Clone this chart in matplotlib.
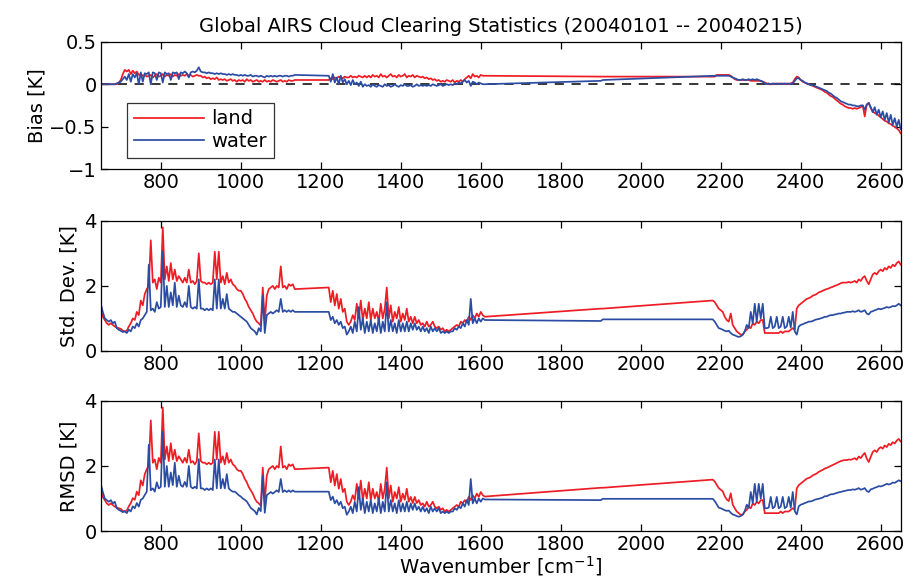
import numpy as np
import matplotlib
matplotlib.use("Agg")
import matplotlib.pyplot as plt

# 波数网格: 三个 AIRS 谱段 + 间隙中的两个点
wn = np.concatenate([np.arange(650, 1140, 5),
                     np.arange(1220, 1615, 5),
                     [1900, 1905],
                     np.arange(2180, 2655, 5)])

# 偏差 [K]
bias_land = [
    0.00, 0.00, 0.00, 0.00, 0.00, 0.00, 0.00, 0.00, 0.00, 0.02,
    0.05, 0.12, 0.17, 0.15, 0.17, 0.12, 0.16, 0.13, 0.15, 0.11,
    0.12, 0.10, 0.11, 0.09, 0.10, 0.11, 0.08, 0.10, 0.12, 0.09,
    0.10, 0.12, 0.09, 0.11, 0.10, 0.12, 0.09, 0.11, 0.10, 0.12,
    0.10, 0.11, 0.10, 0.12, 0.10, 0.11, 0.09, 0.10, 0.11, 0.10,
    0.10, 0.08, 0.09, 0.07, 0.08, 0.06, 0.07, 0.06, 0.08, 0.05,
    0.06, 0.05, 0.06, 0.04, 0.05, 0.06, 0.04, 0.05, 0.03, 0.05,
    0.04, 0.05, 0.03, 0.06, 0.04, 0.05, 0.03, 0.04, 0.05, 0.03,
    0.04, 0.03, 0.05, 0.03, 0.04, 0.03, 0.05, 0.04, 0.03, 0.04,
    0.05, 0.03, 0.04, 0.03, 0.05, 0.04, 0.04, 0.05,
    0.05, 0.07, 0.06, 0.08, 0.07, 0.09, 0.08, 0.07, 0.09, 0.08,
    0.08, 0.10, 0.08, 0.09, 0.08, 0.10, 0.09, 0.08, 0.10, 0.08,
    0.10, 0.08, 0.11, 0.09, 0.10, 0.08, 0.12, 0.09, 0.10, 0.08,
    0.10, 0.12, 0.09, 0.10, 0.08, 0.11, 0.09, 0.10, 0.12, 0.08,
    0.10, 0.09, 0.11, 0.08, 0.10, 0.09, 0.08, 0.09, 0.07, 0.08,
    0.06, 0.07, 0.05, 0.06, 0.04, 0.05, 0.03, 0.04, 0.03, 0.05,
    0.04, 0.03, 0.05, 0.02, 0.04, 0.03, 0.05, 0.03, 0.06, 0.08,
    0.10, 0.07, 0.12, 0.09, 0.10, 0.08, 0.11, 0.10, 0.10,
    0.09, 0.09,
    0.09, 0.09, 0.11, 0.11, 0.11, 0.11, 0.11, 0.11, 0.11, 0.10,
    0.08, 0.06, 0.05, 0.05, 0.05, 0.05, 0.05, 0.05, 0.05, 0.04,
    0.04, 0.04, 0.04, 0.04, 0.04, 0.03, 0.02, 0.01, 0.00, 0.00,
    0.00, 0.01, 0.00, 0.01, 0.00, 0.01, 0.00, 0.01, 0.00, 0.01,
    0.02, 0.06, 0.09, 0.08, 0.05, 0.03, 0.02, 0.01, 0.00, -0.01,
    -0.02, -0.03, -0.04, -0.05, -0.06, -0.07, -0.09, -0.10, -0.12, -0.14,
    -0.15, -0.17, -0.19, -0.21, -0.23, -0.24, -0.26, -0.27, -0.28, -0.28,
    -0.29, -0.28, -0.29, -0.28, -0.27, -0.25, -0.38, -0.24, -0.22, -0.28,
    -0.32, -0.34, -0.35, -0.37, -0.39, -0.41, -0.43, -0.44, -0.46, -0.47,
    -0.49, -0.50, -0.52, -0.54, -0.58,
]
bias_water = [
    0.00, 0.00, 0.00, 0.00, 0.00, 0.00, 0.00, 0.00, 0.01, 0.02,
    0.03, 0.06, 0.09, 0.05, 0.12, 0.03, 0.12, 0.08, 0.13, 0.00,
    0.14, 0.03, 0.13, 0.12, 0.14, 0.00, 0.14, 0.13, 0.05, 0.14,
    0.13, 0.02, 0.14, 0.12, 0.13, 0.05, 0.14, 0.13, 0.14, 0.06,
    0.14, 0.13, 0.15, 0.13, 0.08, 0.14, 0.15, 0.14, 0.16, 0.20,
    0.15, 0.14, 0.14, 0.13, 0.14, 0.13, 0.13, 0.12, 0.13, 0.12,
    0.13, 0.12, 0.12, 0.11, 0.12, 0.11, 0.12, 0.11, 0.11, 0.10,
    0.11, 0.10, 0.11, 0.10, 0.10, 0.11, 0.09, 0.10, 0.10, 0.09,
    0.10, 0.09, 0.08, 0.10, 0.09, 0.10, 0.09, 0.10, 0.09, 0.10,
    0.10, 0.09, 0.10, 0.10, 0.09, 0.10, 0.10, 0.11,
    0.10, 0.03, 0.12, 0.02, 0.08, 0.00, 0.10, 0.02, 0.06, 0.00,
    0.04, -0.01, 0.05, 0.00, 0.02, -0.02, 0.03, -0.03, 0.00, -0.02,
    -0.01, -0.03, 0.00, -0.02, -0.03, -0.01, -0.02, -0.03, 0.00, -0.02,
    -0.01, -0.03, -0.02, 0.00, -0.02, -0.03, -0.01, -0.02, 0.00, -0.02,
    -0.02, -0.01, -0.03, -0.02, 0.00, -0.02, -0.01, -0.02, -0.01, -0.02,
    -0.01, -0.02, 0.00, -0.01, -0.02, -0.01, 0.00, -0.02, -0.01, 0.00,
    -0.01, 0.00, -0.01, 0.01, 0.00, 0.02, 0.01, 0.03, 0.05, 0.02,
    0.04, -0.02, 0.03, 0.02, 0.00, 0.02, 0.01, 0.00, 0.00,
    0.04, 0.05,
    0.10, 0.10, 0.10, 0.10, 0.10, 0.10, 0.10, 0.10, 0.10, 0.09,
    0.08, 0.07, 0.06, 0.05, 0.05, 0.06, 0.05, 0.05, 0.06, 0.05,
    0.06, 0.05, 0.06, 0.05, 0.04, 0.03, 0.01, 0.00, 0.01, 0.00,
    0.01, 0.00, 0.01, 0.00, 0.01, 0.00, 0.01, 0.00, 0.01, 0.00,
    0.01, 0.04, 0.07, 0.07, 0.05, 0.04, 0.02, 0.01, 0.00, -0.01,
    -0.01, -0.02, -0.03, -0.04, -0.05, -0.06, -0.07, -0.08, -0.10, -0.11,
    -0.13, -0.15, -0.16, -0.18, -0.20, -0.21, -0.22, -0.23, -0.24, -0.24,
    -0.25, -0.25, -0.26, -0.26, -0.25, -0.25, -0.30, -0.24, -0.22, -0.27,
    -0.33, -0.27, -0.36, -0.30, -0.39, -0.32, -0.42, -0.34, -0.45, -0.36,
    -0.48, -0.40, -0.50, -0.42, -0.53,
]

# 标准差 [K]
std_land = [
    1.25, 1.05, 0.95, 0.85, 0.80, 0.85, 0.80, 0.75, 0.72, 0.70,
    0.68, 0.62, 0.60, 0.62, 0.75, 0.85, 1.00, 0.95, 1.20, 1.10,
    1.55, 1.40, 1.75, 1.90, 2.00, 3.40, 2.10, 2.20, 1.90, 2.25,
    2.10, 3.80, 2.20, 2.60, 2.15, 2.70, 2.20, 2.50, 2.15, 2.30,
    2.20, 2.10, 2.25, 2.10, 2.50, 2.10, 2.15, 2.05, 2.15, 3.00,
    2.15, 2.10, 2.10, 2.05, 2.10, 2.05, 2.10, 3.05, 2.20, 3.05,
    2.10, 2.30, 2.05, 2.40, 2.10, 2.20, 2.05, 2.00, 1.90, 1.85,
    1.85, 1.75, 1.60, 1.50, 1.35, 1.25, 1.15, 1.00, 0.90, 0.85,
    0.78, 1.95, 0.90, 1.70, 1.90, 1.95, 2.00, 1.90, 2.00, 1.95,
    2.60, 1.95, 2.00, 1.90, 2.05, 2.00, 2.05, 1.90,
    1.95, 1.50, 1.85, 1.40, 1.75, 1.30, 1.60, 1.20, 1.30, 0.90,
    0.80, 0.90, 1.10, 0.95, 1.45, 1.00, 1.55, 0.95, 1.30, 1.00,
    1.50, 0.95, 1.30, 1.00, 1.20, 0.90, 1.45, 1.00, 1.30, 1.95,
    1.00, 1.40, 0.90, 1.20, 1.00, 1.35, 0.90, 1.15, 0.95, 1.30,
    0.90, 1.05, 0.85, 1.05, 0.85, 0.95, 0.80, 0.85, 0.75, 0.90,
    0.75, 0.80, 0.90, 0.75, 0.70, 0.75, 0.65, 0.70, 0.60, 0.65,
    0.60, 0.65, 0.70, 0.75, 0.80, 0.75, 0.90, 0.85, 0.95, 0.90,
    1.05, 0.95, 1.10, 1.00, 1.15, 1.05, 1.20, 1.10, 1.05,
    1.30, 1.30,
    1.55, 1.50, 1.40, 1.30, 1.25, 1.20, 1.05, 0.95, 0.90, 1.15,
    0.80, 0.70, 0.60, 0.55, 0.50, 0.50, 0.60, 0.65, 0.75, 0.70,
    0.85, 0.80, 0.90, 0.85, 0.95, 0.95, 0.55, 0.55, 0.55, 0.55,
    0.55, 0.55, 0.55, 0.55, 0.60, 0.55, 0.60, 0.60, 0.60, 0.65,
    0.70, 0.65, 1.30, 1.40, 1.45, 1.50, 1.55, 1.60, 1.62, 1.65,
    1.70, 1.72, 1.75, 1.80, 1.82, 1.85, 1.88, 1.90, 1.92, 1.95,
    1.97, 2.00, 2.02, 2.05, 2.08, 2.10, 2.10, 2.10, 2.12, 2.10,
    2.12, 2.15, 2.10, 2.20, 2.15, 2.25, 2.30, 2.15, 2.05, 2.20,
    2.35, 2.40, 2.35, 2.45, 2.50, 2.45, 2.55, 2.50, 2.60, 2.55,
    2.65, 2.60, 2.70, 2.75, 2.65,
]
std_water = [
    1.45, 1.20, 1.00, 0.95, 0.90, 0.95, 0.85, 0.90, 0.70, 0.65,
    0.62, 0.58, 0.60, 0.55, 0.65, 0.60, 0.75, 0.70, 0.85, 0.75,
    0.95, 1.00, 1.10, 1.20, 2.65, 1.25, 1.30, 1.20, 1.50, 1.30,
    1.35, 3.05, 1.35, 2.00, 1.35, 1.80, 1.40, 2.10, 1.35, 1.70,
    1.40, 1.35, 1.50, 1.35, 2.00, 1.35, 1.30, 1.35, 1.30, 2.20,
    1.30, 1.30, 1.25, 1.30, 1.25, 1.30, 1.25, 2.20, 1.30, 2.20,
    1.30, 1.60, 1.30, 1.75, 1.30, 1.25, 1.20, 1.20, 1.15, 1.10,
    1.05, 1.00, 0.95, 0.90, 0.80, 0.70, 0.65, 0.60, 0.50, 0.70,
    0.60, 1.70, 0.55, 1.10, 1.15, 1.20, 1.15, 1.20, 1.25, 1.20,
    1.60, 1.20, 1.25, 1.20, 1.25, 1.20, 1.25, 1.20,
    1.20, 0.95, 1.05, 0.85, 0.95, 0.80, 0.90, 0.70, 0.75, 0.50,
    0.60, 0.75, 0.55, 0.90, 0.60, 1.35, 0.65, 1.00, 0.55, 0.90,
    0.60, 0.95, 0.55, 0.85, 0.60, 1.00, 0.55, 0.90, 0.60, 1.50,
    0.60, 0.95, 0.60, 0.85, 0.55, 0.95, 0.60, 0.85, 0.60, 0.90,
    0.60, 0.85, 0.65, 0.85, 0.65, 0.75, 0.60, 0.75, 0.60, 0.70,
    0.55, 0.75, 0.60, 0.70, 0.60, 0.70, 0.55, 0.60, 0.55, 0.60,
    0.55, 0.60, 0.60, 0.70, 0.65, 0.75, 0.70, 0.85, 0.75, 0.95,
    0.80, 1.60, 0.85, 1.00, 0.85, 1.00, 0.90, 1.00, 0.95,
    0.92, 0.97,
    0.97, 0.90, 0.80, 0.70, 0.68, 0.65, 0.62, 0.60, 0.62, 0.55,
    0.50, 0.48, 0.45, 0.43, 0.45, 0.50, 0.60, 0.80, 0.70, 1.20,
    0.85, 1.45, 0.90, 1.45, 1.00, 1.45, 0.70, 0.70, 0.72, 1.05,
    0.70, 0.75, 1.05, 0.70, 0.75, 1.05, 0.70, 0.75, 1.05, 0.72,
    1.20, 0.60, 0.50, 0.75, 0.80, 0.82, 0.85, 0.87, 0.90, 0.90,
    0.92, 0.95, 0.97, 0.98, 1.00, 1.02, 1.05, 1.05, 1.08, 1.10,
    1.10, 1.12, 1.13, 1.15, 1.15, 1.17, 1.18, 1.20, 1.20, 1.20,
    1.22, 1.20, 1.22, 1.25, 1.20, 1.22, 1.25, 1.15, 1.12, 1.20,
    1.22, 1.25, 1.27, 1.30, 1.28, 1.30, 1.32, 1.35, 1.33, 1.35,
    1.38, 1.37, 1.40, 1.45, 1.40,
]

# 均方根差 [K]
rmsd_land = [
    1.25, 1.05, 0.95, 0.85, 0.80, 0.85, 0.80, 0.75, 0.72, 0.70,
    0.68, 0.62, 0.60, 0.63, 0.76, 0.86, 1.01, 0.96, 1.21, 1.10,
    1.56, 1.40, 1.75, 1.90, 2.00, 3.40, 2.10, 2.20, 1.90, 2.25,
    2.10, 3.80, 2.20, 2.60, 2.15, 2.70, 2.20, 2.50, 2.15, 2.30,
    2.20, 2.10, 2.25, 2.10, 2.50, 2.10, 2.15, 2.05, 2.15, 3.00,
    2.15, 2.10, 2.10, 2.05, 2.10, 2.05, 2.10, 3.05, 2.20, 3.05,
    2.10, 2.30, 2.05, 2.40, 2.10, 2.20, 2.05, 2.00, 1.90, 1.85,
    1.85, 1.75, 1.60, 1.50, 1.35, 1.25, 1.15, 1.00, 0.90, 0.85,
    0.78, 1.95, 0.90, 1.70, 1.90, 1.95, 2.00, 1.90, 2.00, 1.95,
    2.60, 1.95, 2.00, 1.90, 2.05, 2.00, 2.05, 1.90,
    1.95, 1.50, 1.85, 1.40, 1.75, 1.30, 1.60, 1.20, 1.30, 0.90,
    0.80, 0.91, 1.10, 0.95, 1.45, 1.00, 1.55, 0.95, 1.30, 1.00,
    1.50, 0.95, 1.30, 1.00, 1.20, 0.90, 1.45, 1.00, 1.30, 1.95,
    1.00, 1.40, 0.90, 1.20, 1.00, 1.35, 0.90, 1.15, 0.96, 1.30,
    0.90, 1.05, 0.86, 1.05, 0.86, 0.95, 0.80, 0.85, 0.75, 0.90,
    0.75, 0.80, 0.90, 0.75, 0.70, 0.75, 0.65, 0.70, 0.60, 0.65,
    0.60, 0.65, 0.70, 0.75, 0.80, 0.75, 0.90, 0.85, 0.95, 0.90,
    1.05, 0.95, 1.10, 1.00, 1.15, 1.05, 1.20, 1.10, 1.06,
    1.33, 1.33,
    1.58, 1.52, 1.42, 1.32, 1.27, 1.22, 1.07, 0.97, 0.92, 1.16,
    0.81, 0.70, 0.60, 0.55, 0.50, 0.50, 0.60, 0.65, 0.75, 0.70,
    0.85, 0.80, 0.90, 0.85, 0.95, 0.95, 0.55, 0.55, 0.55, 0.55,
    0.55, 0.55, 0.55, 0.55, 0.60, 0.55, 0.60, 0.60, 0.60, 0.65,
    0.70, 0.66, 1.31, 1.41, 1.46, 1.51, 1.56, 1.61, 1.63, 1.66,
    1.71, 1.74, 1.77, 1.82, 1.85, 1.88, 1.92, 1.94, 1.97, 2.00,
    2.03, 2.06, 2.09, 2.12, 2.15, 2.17, 2.18, 2.18, 2.20, 2.19,
    2.21, 2.24, 2.19, 2.29, 2.24, 2.33, 2.40, 2.23, 2.12, 2.28,
    2.43, 2.48, 2.43, 2.53, 2.58, 2.53, 2.63, 2.58, 2.68, 2.64,
    2.73, 2.69, 2.78, 2.83, 2.75,
]
rmsd_water = [
    1.45, 1.20, 1.00, 0.95, 0.90, 0.95, 0.85, 0.90, 0.70, 0.65,
    0.62, 0.58, 0.61, 0.55, 0.66, 0.60, 0.76, 0.70, 0.86, 0.75,
    0.96, 1.00, 1.11, 1.21, 2.65, 1.25, 1.31, 1.21, 1.50, 1.31,
    1.36, 3.05, 1.36, 2.00, 1.36, 1.80, 1.41, 2.10, 1.36, 1.70,
    1.41, 1.36, 1.51, 1.36, 2.00, 1.36, 1.31, 1.36, 1.31, 2.21,
    1.31, 1.31, 1.26, 1.31, 1.26, 1.31, 1.26, 2.20, 1.31, 2.20,
    1.31, 1.60, 1.31, 1.75, 1.31, 1.25, 1.21, 1.21, 1.16, 1.10,
    1.06, 1.00, 0.96, 0.91, 0.81, 0.71, 0.66, 0.61, 0.51, 0.71,
    0.61, 1.70, 0.56, 1.10, 1.15, 1.20, 1.15, 1.20, 1.25, 1.20,
    1.60, 1.20, 1.25, 1.20, 1.25, 1.20, 1.25, 1.21,
    1.21, 0.95, 1.06, 0.85, 0.95, 0.80, 0.90, 0.70, 0.75, 0.50,
    0.60, 0.75, 0.55, 0.90, 0.60, 1.35, 0.65, 1.00, 0.55, 0.90,
    0.60, 0.95, 0.55, 0.85, 0.60, 1.00, 0.55, 0.90, 0.60, 1.50,
    0.60, 0.95, 0.60, 0.85, 0.55, 0.95, 0.60, 0.85, 0.60, 0.90,
    0.60, 0.85, 0.65, 0.85, 0.65, 0.75, 0.60, 0.75, 0.60, 0.70,
    0.55, 0.75, 0.60, 0.70, 0.60, 0.70, 0.55, 0.60, 0.55, 0.60,
    0.55, 0.60, 0.60, 0.70, 0.65, 0.75, 0.70, 0.85, 0.75, 0.95,
    0.80, 1.60, 0.85, 1.00, 0.85, 1.00, 0.90, 1.00, 0.97,
    0.95, 0.99,
    0.99, 0.92, 0.82, 0.72, 0.70, 0.67, 0.64, 0.62, 0.63, 0.56,
    0.51, 0.49, 0.46, 0.44, 0.46, 0.51, 0.61, 0.81, 0.71, 1.20,
    0.86, 1.45, 0.91, 1.45, 1.00, 1.45, 0.70, 0.70, 0.72, 1.05,
    0.70, 0.75, 1.05, 0.70, 0.75, 1.05, 0.70, 0.75, 1.05, 0.72,
    1.20, 0.61, 0.51, 0.76, 0.81, 0.83, 0.86, 0.88, 0.91, 0.91,
    0.93, 0.96, 0.98, 0.99, 1.01, 1.03, 1.07, 1.07, 1.10, 1.13,
    1.13, 1.15, 1.17, 1.19, 1.20, 1.22, 1.23, 1.25, 1.26, 1.26,
    1.28, 1.27, 1.29, 1.32, 1.27, 1.29, 1.32, 1.23, 1.20, 1.28,
    1.30, 1.33, 1.35, 1.38, 1.37, 1.39, 1.42, 1.45, 1.43, 1.45,
    1.49, 1.48, 1.52, 1.56, 1.53,
]

for s in (bias_land, bias_water, std_land, std_water, rmsd_land, rmsd_water):
    assert len(s) == len(wn), len(s)

red = '#ee1c24'
blue = '#2b4ca3'
fs = 14
lw = 1.25

plt.rcParams['font.family'] = ['DejaVu Sans']
plt.rcParams['font.size'] = fs

fig = plt.figure(figsize=(9.08, 5.81), dpi=100)
ax1 = fig.add_axes([0.111, 0.709, 0.881, 0.219])
ax2 = fig.add_axes([0.111, 0.396, 0.881, 0.224])
ax3 = fig.add_axes([0.111, 0.086, 0.881, 0.224])


def style(ax):
    ax.set_xlim(650, 2650)
    ax.set_xticks(np.arange(800, 2601, 200))
    ax.tick_params(direction='in', top=True, right=True, length=5, width=0.9,
                   labelsize=fs, pad=3)
    for sp in ax.spines.values():
        sp.set_linewidth(0.9)


# 偏差
ax1.plot(wn, bias_land, color=red, lw=lw, label='land')
ax1.plot(wn, bias_water, color=blue, lw=lw, label='water')
ax1.axhline(0, color='black', lw=1.1, ls=(0, (6, 5)), zorder=0)
ax1.set_ylim(-1, 0.5)
ax1.set_yticks([-1, -0.5, 0, 0.5])
ax1.set_yticklabels(['\u22121', '\u22120.5', '0', '0.5'])
ax1.set_ylabel('Bias [K]', labelpad=2)
ax1.set_title('Global AIRS Cloud Clearing Statistics (20040101 -- 20040215)',
              fontsize=fs, pad=7)
style(ax1)
leg = ax1.legend(loc='lower left', bbox_to_anchor=(0.0325, 0.087),
                 borderaxespad=0, fancybox=False, edgecolor='black',
                 handlelength=3.6, handletextpad=0.4, borderpad=0.35,
                 labelspacing=0.2, fontsize=fs)
leg.get_frame().set_linewidth(0.9)

# 标准差
ax2.plot(wn, std_land, color=red, lw=lw)
ax2.plot(wn, std_water, color=blue, lw=lw)
ax2.set_ylim(0, 4)
ax2.set_yticks([0, 2, 4])
ax2.set_ylabel('Std. Dev. [K]', labelpad=4)
style(ax2)

# 均方根差
ax3.plot(wn, rmsd_land, color=red, lw=lw)
ax3.plot(wn, rmsd_water, color=blue, lw=lw)
ax3.set_ylim(0, 4)
ax3.set_yticks([0, 2, 4])
ax3.set_ylabel('RMSD [K]', labelpad=4)
ax3.set_xlabel('Wavenumber [cm$^{-1}$]', labelpad=0)
style(ax3)

fig.savefig('out.png', dpi=100)
